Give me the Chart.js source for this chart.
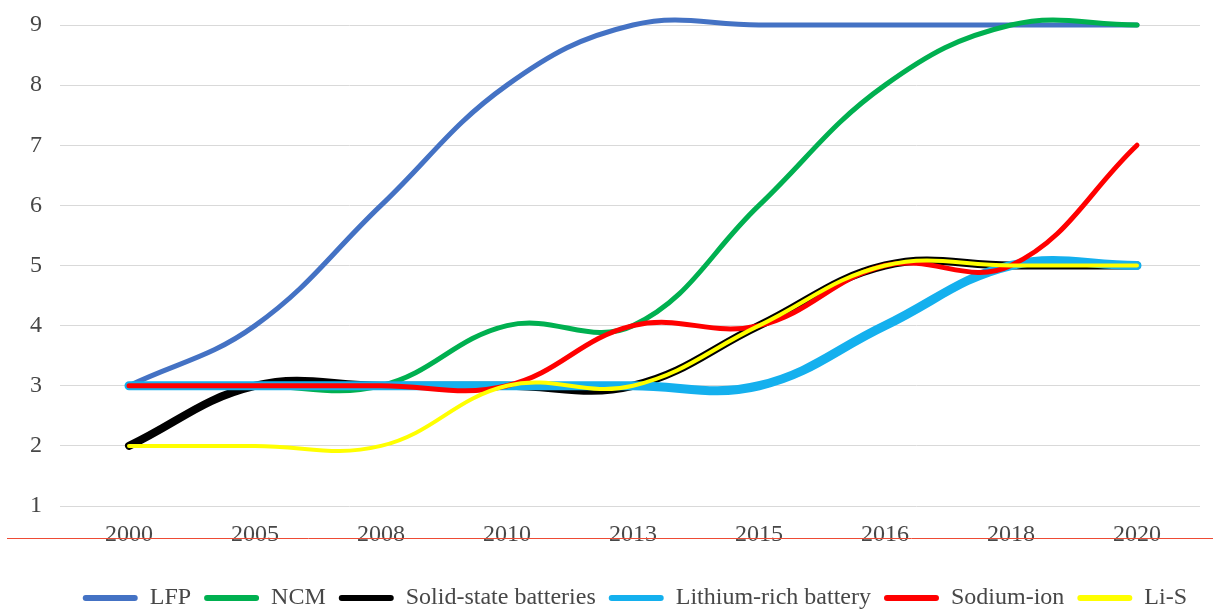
<!DOCTYPE html>
<html>
<head>
<meta charset="utf-8">
<script src="https://cdn.jsdelivr.net/npm/chart.js@4.4.1/dist/chart.umd.min.js"></script>
<style>
    html, body { margin: 0; padding: 0; background: #fff; overflow: hidden; }
    #wrap { width: 1213px; height: 609px; position: relative; }
</style>
</head>
<body>
<div id="wrap"><canvas id="chart"></canvas></div>
<script>
// Data
const years = ['2000', '2005', '2008', '2010', '2013', '2015', '2016', '2018', '2020'];
const lfp = [3, 4, 6, 8, 9, 9, 9, 9, 9];
const ncm = [3, 3, 3, 4, 4, 6, 8, 9, 9];
const solidState = [2, 3, 3, 3, 3, 4, 5, 5, 5];
const lithiumRich = [3, 3, 3, 3, 3, 3, 4, 5, 5];
const sodiumIon = [3, 3, 3, 3, 4, 4, 5, 5, 7];
const liS = [2, 2, 2, 3, 3, 4, 5, 5, 5];
const yTicks = [1, 2, 3, 4, 5, 6, 7, 8, 9];

Chart.defaults.font.family = '"Liberation Serif", "Times New Roman", serif';
Chart.defaults.color = '#474747';

function series(label, data, color, width, order) {
    return {
        label: label,
        data: data,
        borderColor: color,
        backgroundColor: color,
        borderWidth: width,
        tension: 0.4,
        pointRadius: 0,
        pointHoverRadius: 0,
        borderCapStyle: 'round',
        borderJoinStyle: 'round',
        fill: false,
        clip: false,
        order: order
    };
}

// thin red rule running across the picture under the axis labels
const redRule = {
    id: 'redRule',
    afterDraw(chart) {
        const ctx = chart.ctx;
        ctx.save();
        ctx.strokeStyle = '#ee4b35';
        ctx.lineWidth = 1;
        ctx.beginPath();
        ctx.moveTo(7, 538.5);
        ctx.lineTo(chart.width, 538.5);
        ctx.stroke();
        ctx.restore();
    }
};

new Chart(document.getElementById('chart'), {
    type: 'line',
    data: {
        labels: years,
        datasets: [
            series('LFP', lfp, '#4472C4', 5, 5),
            series('NCM', ncm, '#00B050', 5, 4),
            series('Solid-state batteries', solidState, '#000000', 8, 3),
            series('Lithium-rich battery', lithiumRich, '#14B0EE', 9, 2),
            series('Sodium-ion', sodiumIon, '#FF0000', 5, 1),
            series('Li-S', liS, '#FFFF00', 4, 0)
        ]
    },
    options: {
        responsive: true,
        maintainAspectRatio: false,
        animation: false,
        elements: {
            line: { capBezierPoints: false }
        },
        layout: {
            padding: { top: 25, right: 13, bottom: -11, left: 0 }
        },
        plugins: {
            legend: {
                position: 'bottom',
                align: 'end',
                labels: {
                    boxWidth: 55,
                    boxHeight: 6,
                    useBorderRadius: true,
                    borderRadius: 3,
                    padding: 13,
                    color: '#474747',
                    font: { size: 24 },
                    sort: (a, b) => a.datasetIndex - b.datasetIndex,
                    generateLabels: function(chart) {
                        return Chart.defaults.plugins.legend.labels.generateLabels(chart)
                            .map(item => Object.assign(item, { lineWidth: 0 }));
                    }
                }
            },
            tooltip: { enabled: false }
        },
        scales: {
            x: {
                offset: true,
                grid: { display: false, drawTicks: false },
                border: { display: false },
                ticks: {
                    padding: 14,
                    font: { size: 24 },
                    maxRotation: 0
                },
                afterFit: function(scale) { scale.height = 67; }
            },
            y: {
                min: 1,
                max: 9,
                afterBuildTicks: function(scale) {
                    scale.ticks = yTicks.map(v => ({ value: v }));
                },
                grid: {
                    color: '#d9d9d9',
                    lineWidth: 1,
                    tickLength: 6
                },
                border: { display: false },
                ticks: {
                    padding: 18,
                    font: { size: 24 }
                },
                afterFit: function(scale) {
                    scale.width = 66;
                    scale.paddingTop = 0;
                    scale.paddingBottom = 0;
                }
            }
        }
    },
    plugins: [redRule]
});
</script>
</body>
</html>
